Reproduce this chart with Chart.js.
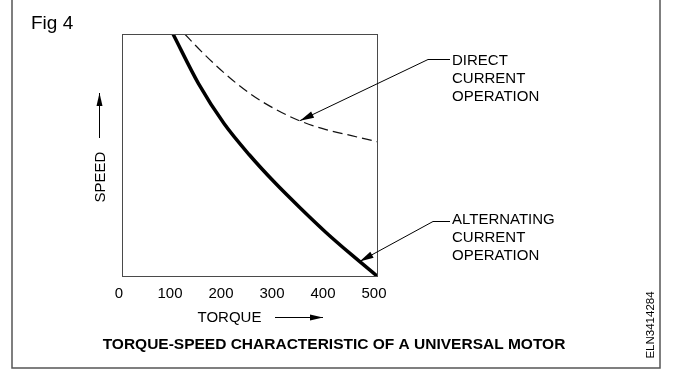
<!DOCTYPE html>
<html>
<head>
<meta charset="utf-8">
<title>Torque-speed characteristic of a universal motor</title>
<script src="https://cdn.jsdelivr.net/npm/chart.js@4/dist/chart.umd.min.js"></script>
<style>
  html, body { margin: 0; padding: 0; background: #ffffff; }
  #wrap { width: 680px; height: 372px; }
</style>
</head>
<body>
<div id="wrap"><canvas id="motor" width="680" height="372"></canvas></div>
<script>
// Torque axis tick values
const torqueTicks = [0, 100, 200, 300, 400, 500];

// Alternating current operation (solid curve)
const acTorque = [100, 150, 200, 250, 300, 350, 400, 450, 500];
const acSpeed  = [100, 79.5, 63, 50, 38.5, 28, 18, 8.8, 0];

// Direct current operation (dashed curve)
const dcTorque = [123, 150, 200, 250, 300, 350, 400, 450, 500];
const dcSpeed  = [100, 94, 84, 75.5, 69, 64, 60.5, 58, 55.5];

// Curve labels and the points their leaders touch
const dcLabel = ['DIRECT', 'CURRENT', 'OPERATION'];
const acLabel = ['ALTERNATING', 'CURRENT', 'OPERATION'];
const dcLeaderAt = [349, 64.2];
const acLeaderAt = [466, 6.0];

const FONT = '"Liberation Sans", Arial, Helvetica, sans-serif';

function toPoints(xs, ys) {
  return xs.map((x, i) => ({ x: x, y: ys[i] }));
}

function arrowHead(ctx, x1, y1, x2, y2, len, half) {
  const a = Math.atan2(y2 - y1, x2 - x1);
  ctx.beginPath();
  ctx.moveTo(x2, y2);
  ctx.lineTo(x2 - len * Math.cos(a) + half * Math.sin(a), y2 - len * Math.sin(a) - half * Math.cos(a));
  ctx.lineTo(x2 - len * Math.cos(a) - half * Math.sin(a), y2 - len * Math.sin(a) + half * Math.cos(a));
  ctx.closePath();
  ctx.fill();
}

function arrow(ctx, x1, y1, x2, y2, len, half) {
  ctx.beginPath();
  ctx.moveTo(x1, y1);
  ctx.lineTo(x2, y2);
  ctx.stroke();
  arrowHead(ctx, x1, y1, x2, y2, len, half);
}

const figureNotes = {
  id: 'figureNotes',
  afterDraw(chart) {
    const ctx = chart.ctx;
    const area = chart.chartArea;
    const xs = chart.scales.x;
    const ys = chart.scales.y;
    ctx.save();

    // plot frame
    ctx.strokeStyle = '#4a4a4a';
    ctx.lineWidth = 1;
    ctx.strokeRect(Math.round(area.left) + 0.5, Math.round(area.top) + 0.5,
                   Math.round(area.right - area.left), Math.round(area.bottom - area.top));

    // figure border (open at the top)
    ctx.strokeStyle = '#555555';
    ctx.lineWidth = 1.5;
    ctx.beginPath();
    ctx.moveTo(12, 0);
    ctx.lineTo(12, 368);
    ctx.lineTo(660, 368);
    ctx.lineTo(660, 0);
    ctx.stroke();

    ctx.fillStyle = '#000000';
    ctx.strokeStyle = '#000000';

    // figure number
    ctx.font = '19px ' + FONT;
    ctx.textAlign = 'left';
    ctx.textBaseline = 'middle';
    ctx.fillText('Fig 4', 31, 24);

    // speed axis caption and arrow
    ctx.save();
    ctx.translate(101, 177);
    ctx.rotate(-Math.PI / 2);
    ctx.font = '15px ' + FONT;
    ctx.textAlign = 'center';
    ctx.fillText('SPEED', 0, 0);
    ctx.restore();
    ctx.lineWidth = 1;
    arrow(ctx, 99.5, 138, 99.5, 93, 13, 3);

    // torque axis caption and arrow
    ctx.font = '15px ' + FONT;
    ctx.textAlign = 'center';
    ctx.fillText('TORQUE', 229.5, 318);
    arrow(ctx, 275, 317.5, 323, 317.5, 13, 3);

    // figure caption
    ctx.font = 'bold 15.5px ' + FONT;
    ctx.fillText('TORQUE-SPEED CHARACTERISTIC OF A UNIVERSAL MOTOR', 334, 345);

    // drawing number
    ctx.save();
    ctx.translate(651, 325);
    ctx.rotate(-Math.PI / 2);
    ctx.font = '11.5px ' + FONT;
    ctx.fillText('ELN3414284', 0, 0);
    ctx.restore();

    // curve labels with leaders
    ctx.font = '15px ' + FONT;
    ctx.textAlign = 'left';
    dcLabel.forEach((t, i) => ctx.fillText(t, 452, 61 + i * 18));
    acLabel.forEach((t, i) => ctx.fillText(t, 452, 220 + i * 18));

    ctx.lineWidth = 1;
    ctx.beginPath();
    ctx.moveTo(450, 59.5);
    ctx.lineTo(428, 59.5);
    ctx.stroke();
    arrow(ctx, 428, 59.5, xs.getPixelForValue(dcLeaderAt[0]), ys.getPixelForValue(dcLeaderAt[1]), 14, 3.5);

    ctx.beginPath();
    ctx.moveTo(450, 221.5);
    ctx.lineTo(433, 221.5);
    ctx.stroke();
    arrow(ctx, 433, 221.5, xs.getPixelForValue(acLeaderAt[0]), ys.getPixelForValue(acLeaderAt[1]), 14, 3.5);

    ctx.restore();
  }
};

new Chart(document.getElementById('motor'), {
  type: 'line',
  data: {
    datasets: [
      {
        label: 'Direct current operation',
        data: toPoints(dcTorque, dcSpeed),
        borderColor: '#111111',
        borderWidth: 1.2,
        borderDash: [10, 5],
        pointRadius: 0,
        cubicInterpolationMode: 'monotone',
        fill: false
      },
      {
        label: 'Alternating current operation',
        data: toPoints(acTorque, acSpeed),
        borderColor: '#000000',
        borderWidth: 3.5,
        pointRadius: 0,
        cubicInterpolationMode: 'monotone',
        fill: false
      }
    ]
  },
  options: {
    responsive: false,
    animation: false,
    events: [],
    layout: { padding: { left: 122, right: 303, top: 34, bottom: 66 } },
    plugins: {
      legend: { display: false },
      tooltip: { enabled: false },
      title: { display: false }
    },
    scales: {
      x: {
        type: 'linear',
        min: 0,
        max: 500,
        grid: { display: false, drawTicks: false },
        border: { display: false },
        afterFit(scale) { scale.height = 30; },
        afterBuildTicks(scale) { scale.ticks = torqueTicks.map(v => ({ value: v })); },
        ticks: {
          color: '#000000',
          padding: 9,
          labelOffset: -3,
          maxRotation: 0,
          font: { family: FONT, size: 15 }
        }
      },
      y: {
        type: 'linear',
        min: 0,
        max: 100,
        display: false
      }
    }
  },
  plugins: [figureNotes]
});
</script>
</body>
</html>
